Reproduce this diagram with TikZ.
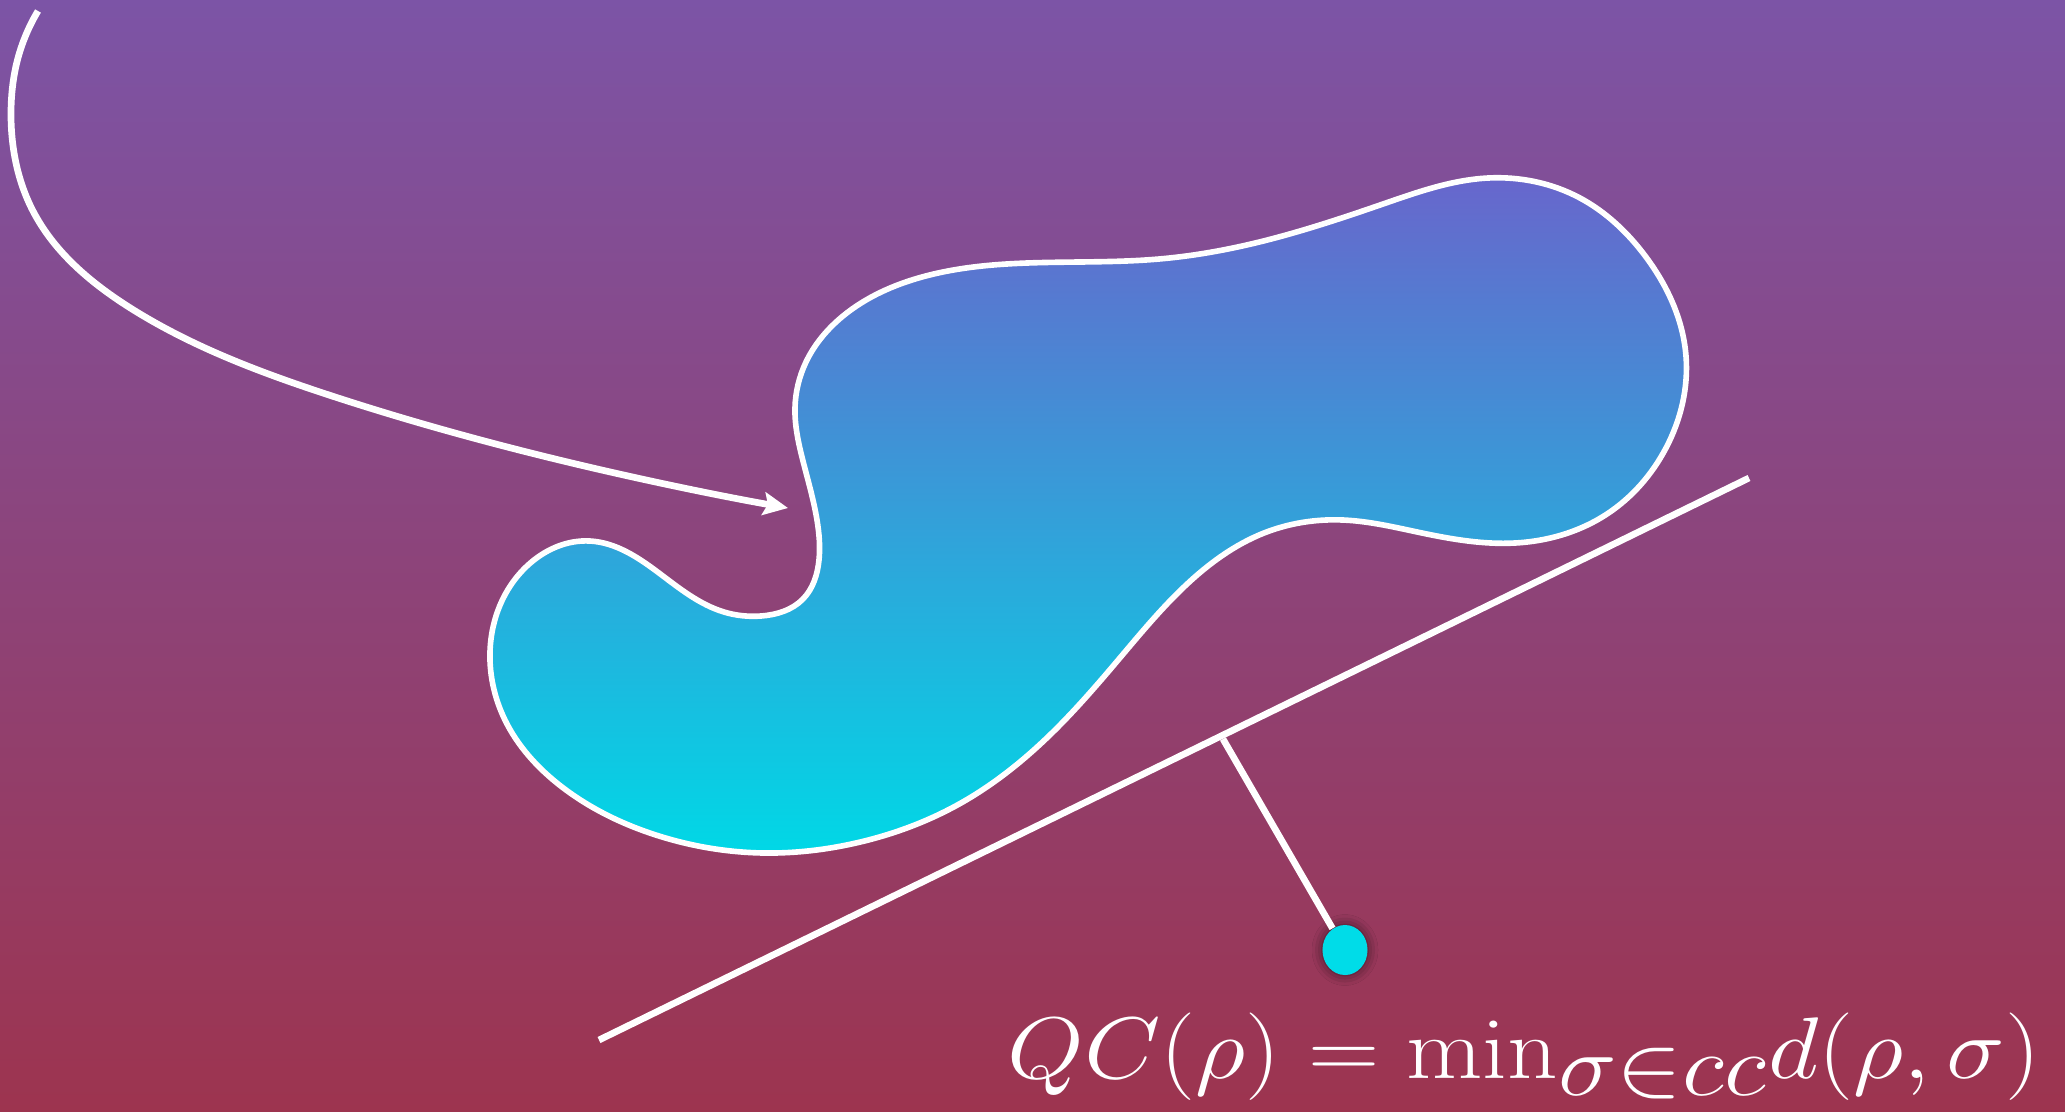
\documentclass[tikz,border=0pt]{standalone}
\usetikzlibrary{arrows.meta,shadows.blur,shapes.geometric,hobby}
\definecolor{bgtop}{RGB}{124,84,166}
\definecolor{bgbot}{RGB}{157,52,79}
\definecolor{blobtop}{RGB}{104,102,204}
\definecolor{blobbot}{RGB}{0,216,230}
\definecolor{dotcol}{RGB}{0,220,232}
\tikzset{
  wline/.style={white, line width=1.9pt},
  blobline/.style={white, line width=1.6pt},
}
\begin{document}
\begin{tikzpicture}[x=0.01cm,y=-0.01cm]
\shade[top color=bgtop,bottom color=bgbot] (0,0) rectangle (2065,1111);
\useasboundingbox (0,0) rectangle (2065,1111);
% blob
\def\blobpath{plot[closed hobby] coordinates {
 (490,652) (507,724) (566,790) (659,836) (764,853) (856,843) (961,803) (1054,731)
 (1119,659) (1185,586) (1264,533) (1343,520) (1422,533) (1515,543) (1607,514)
 (1666,448) (1686,356) (1646,257) (1580,198) (1488,178) (1383,204) (1251,244)
 (1159,259) (1027,263) (922,277) (843,316) (806,362) (795,408) (803,461) (817,520)
 (819,560) (803,599) (761,616) (724,612) (659,573) (590,541) (527,566)}}
\shade[top color=blobtop,bottom color=blobbot] \blobpath;
\draw[blobline] \blobpath;
% curved arrow
\draw[wline,-{Stealth[length=7pt,width=6.5pt,inset=1.2pt]}]
  plot[hobby] coordinates {(38,11) (16,66) (11,112) (33,211) (132,309) (329,395) (593,468) (788,508)};
% tangent line
\coordinate (la) at (599,1040);
\coordinate (lb) at (1749,478);
\draw[wline] (la) -- (lb);
\coordinate (foot) at (1223,739);
\node[ellipse,minimum width=0.45cm,minimum height=0.5cm,inner sep=0pt,fill=dotcol,
  blur shadow={shadow xshift=0pt,shadow yshift=0pt,shadow blur radius=3pt,shadow opacity=60}] (dot) at (1345,950) {};
\draw[wline] (foot) -- (dot);
\node[white,anchor=base west,inner sep=0pt,font=\fontsize{34}{36}\selectfont] (f) at (1007,1078)
  {\scalebox{1.13}[1]{$QC(\rho)=\mathrm{min}_{\sigma\in cc}d(\rho,\sigma)$}};
\end{tikzpicture}
\end{document}
